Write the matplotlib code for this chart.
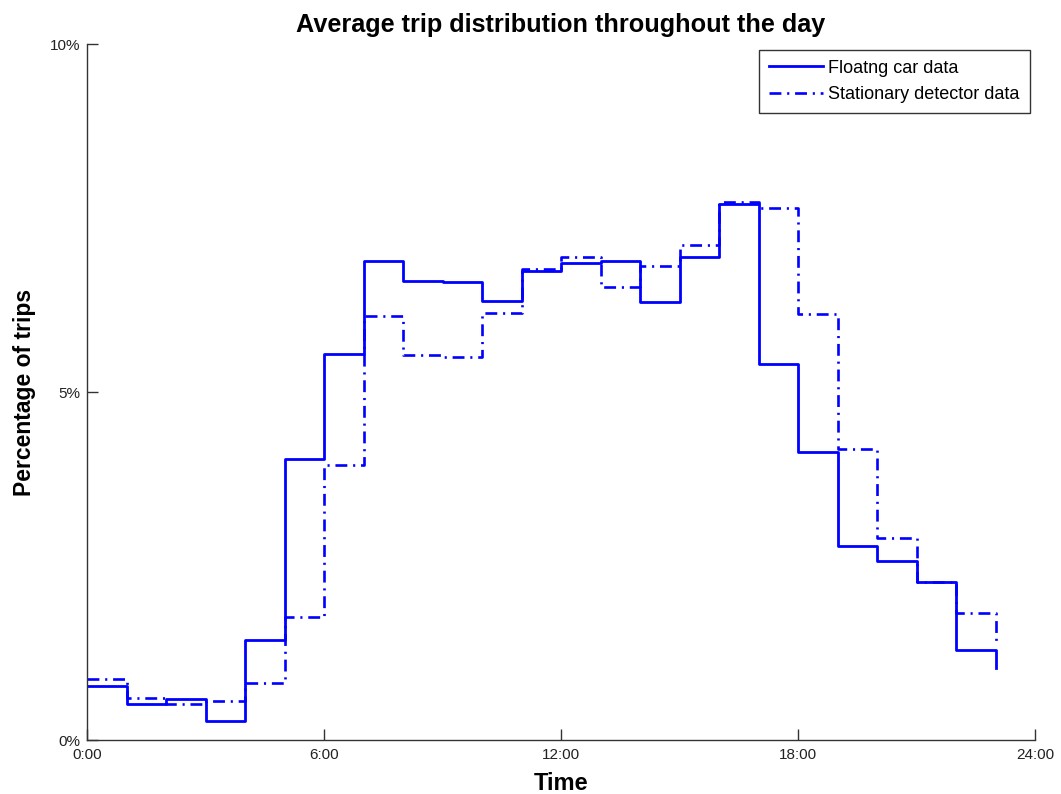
import numpy as np
import matplotlib
matplotlib.use("Agg")
import matplotlib.pyplot as plt

# hourly share of trips (%), hour 0..23
hours = np.arange(24)
floating_car = [0.78, 0.52, 0.59, 0.27, 1.44, 4.04, 5.55, 6.88, 6.60, 6.58, 6.31, 6.75,
                6.86, 6.89, 6.30, 6.95, 7.71, 5.40, 4.14, 2.79, 2.57, 2.27, 1.29, 1.03]
stationary = [0.88, 0.60, 0.52, 0.56, 0.82, 1.77, 3.96, 6.09, 5.53, 5.51, 6.14, 6.77,
              6.95, 6.52, 6.82, 7.11, 7.73, 7.65, 6.12, 4.18, 2.90, 2.27, 1.83, 1.39]

x_ticks = [0, 6, 12, 18, 24]
x_labels = ["0:00", "6:00", "12:00", "18:00", "24:00"]
y_ticks = [0, 5, 10]
y_labels = ["0%", "5%", "10%"]

plt.rcParams['font.family'] = ['Liberation Sans', 'DejaVu Sans']

fig = plt.figure(figsize=(10.61, 7.94), dpi=100)
ax = fig.add_axes([0.082, 0.068, 0.8935, 0.876])

ax.plot(hours, floating_car, drawstyle="steps-post", color="blue", lw=2.0,
        label="Floatng car data")
ax.plot(hours, stationary, drawstyle="steps-post", color="blue", lw=1.9,
        dashes=(4.5, 2.2, 0.8, 2.2), label="Stationary detector data")

ax.set_xlim(0, 24)
ax.set_ylim(0, 10)
ax.set_xticks(x_ticks)
ax.set_xticklabels(x_labels)
ax.set_yticks(y_ticks)
ax.set_yticklabels(y_labels)

ax.spines["top"].set_visible(False)
ax.spines["right"].set_visible(False)
for s in ["left", "bottom"]:
    ax.spines[s].set_color("#333333")
    ax.spines[s].set_linewidth(1.0)
ax.tick_params(direction="in", length=8, width=1, colors="#333333",
               labelsize=11, labelcolor="#222222")
ax.tick_params(axis="x", pad=6)
ax.tick_params(axis="y", pad=5)

ax.set_title("Average trip distribution throughout the day", fontsize=18.2,
             fontweight="bold", pad=9)
ax.set_xlabel("Time", fontsize=17, fontweight="bold", labelpad=7)
ax.set_ylabel("Percentage of trips", fontsize=16.5, fontweight="bold", labelpad=10)

leg = ax.legend(loc="upper right", fontsize=13, frameon=True, fancybox=False,
                edgecolor="black", handlelength=3.0, borderaxespad=0.3,
                handletextpad=0.3, labelspacing=0.5, borderpad=0.55)
leg.get_frame().set_linewidth(1.0)

fig.savefig("out.png", dpi=100)
